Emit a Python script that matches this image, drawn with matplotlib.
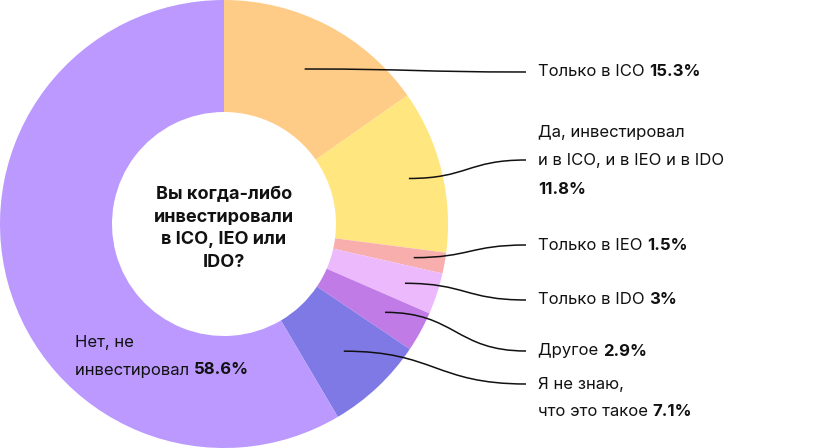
import numpy as np
import matplotlib
matplotlib.use("Agg")
import matplotlib.pyplot as plt
from matplotlib.path import Path
from matplotlib.patches import PathPatch

plt.rcParams['font.family'] = ['Inter', 'DejaVu Sans']

labels = ["Только в ICO", "Да, инвестировал\nи в ICO, и в IEO и в IDO\n", "Только в IEO",
          "Только в IDO", "Другое", "Я не знаю,\nчто это такое", "Нет, не\nинвестировал"]
values = [15.3, 11.8, 1.5, 3.0, 2.9, 7.1, 58.6]
value_text = ["15.3%", "11.8%", "1.5%", "3%", "2.9%", "7.1%", "58.6%"]
colors = ["#FFCC88", "#FFE67F", "#F9AEAE", "#EDB9FD", "#C17BE6", "#7F79E5", "#BB99FE"]
label_y = [72, 133, 245, 300, 351, 384]

W, H = 826, 448
fig = plt.figure(figsize=(W/100, H/100), dpi=100)
ax = fig.add_axes([0, 0, H/W, 1])
ax.pie(values, colors=colors, startangle=90, counterclock=False,
       radius=1, wedgeprops=dict(width=0.5, linewidth=0))
ax.set_xlim(-1, 1); ax.set_ylim(-1, 1); ax.set_aspect('equal'); ax.axis('off')
ax.text(0, -0.02, "Вы когда-либо\nинвестировали\nв ICO, IEO или\nIDO?", ha='center', va='center',
        fontsize=13, fontweight='bold', linespacing=1.45, color='#111111')

ov = fig.add_axes([0, 0, 1, 1], facecolor='none')
ov.set_xlim(0, W); ov.set_ylim(H, 0); ov.axis('off')

cx, cy, R = 224, 224, 224
total = sum(values)
fig.canvas.draw()
rend = fig.canvas.get_renderer()
tx = 538
acc = 0
radii = [0.78, 0.85, 0.86, 0.85, 0.82, 0.78]
for i in range(6):
    mid = acc + values[i] / 2
    acc += values[i]
    ang = np.deg2rad(90 - 360 * mid / total)
    px = cx + radii[i] * R * np.cos(ang)
    py = cy - radii[i] * R * np.sin(ang)
    lines = labels[i].split("\n")
    n = len(lines)
    # anchor line y
    if i == 1:
        ay = label_y[i] + 27
    elif i == 5:
        ay = label_y[i]
    else:
        ay = label_y[i]
    ex = tx - 12
    d = (ex - px) * 0.5
    path = Path([(px, py), (px + d, py), (ex - d, ay), (ex, ay)],
                [Path.MOVETO, Path.CURVE4, Path.CURVE4, Path.CURVE4])
    ov.add_patch(PathPatch(path, fill=False, lw=1.1, color='#111111'))
    for j, ln in enumerate(lines):
        y = label_y[i] + j * 28
        last = j == n - 1
        if ln == "":
            ov.text(tx, y, value_text[i], fontsize=12, fontweight='bold', va='center', color='#111111')
            continue
        t = ov.text(tx, y, ln + (" " if last else ""), fontsize=12, va='center', color='#111111')
        if last:
            bb = t.get_window_extent(rend)
            ov.text(tx + bb.width, y, value_text[i], fontsize=12, fontweight='bold', va='center', color='#111111')

# main slice label
ov.text(75, 343, "Нет, не", fontsize=12, va='center', color='#111111')
t = ov.text(75, 370, "инвестировал ", fontsize=12, va='center', color='#111111')
bb = t.get_window_extent(rend)
ov.text(75 + bb.width, 370, value_text[6], fontsize=12, fontweight='bold', va='center', color='#111111')

fig.savefig("out.png", dpi=100)
